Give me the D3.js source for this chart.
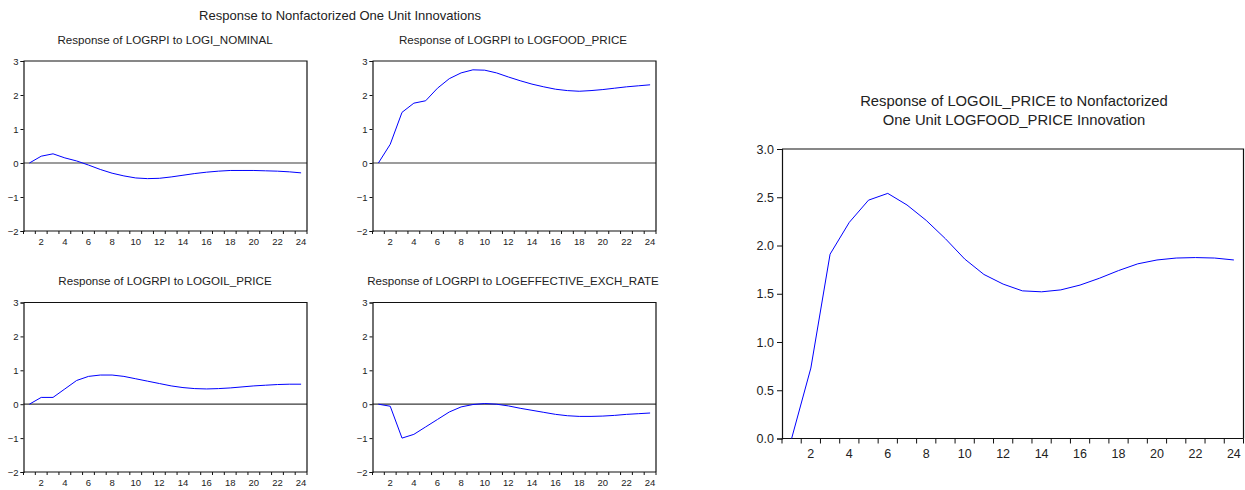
<!DOCTYPE html>
<html>
<head>
<meta charset="utf-8">
<script src="https://cdn.jsdelivr.net/npm/d3@7"></script>
<style>
  html, body { margin: 0; padding: 0; background: #fff; }
  svg { display: block; font-family: "Liberation Sans", Arial, sans-serif; }
</style>
</head>
<body>
<svg id="chart" width="1245" height="490"></svg>
<script>
// ---------- data ----------
const periods = d3.range(1, 25);
const xTickLabels = [2, 4, 6, 8, 10, 12, 14, 16, 18, 20, 22, 24];
const smallYTicks = [-2, -1, 0, 1, 2, 3];
const bigYTicks = [0.0, 0.5, 1.0, 1.5, 2.0, 2.5, 3.0];

const mainTitle = "Response to Nonfactorized One Unit Innovations";
const panelTitles = [
  "Response of LOGRPI to LOGI_NOMINAL",
  "Response of LOGRPI to LOGFOOD_PRICE",
  "Response of LOGRPI to LOGOIL_PRICE",
  "Response of LOGRPI to LOGEFFECTIVE_EXCH_RATE"
];
const bigTitle = ["Response of LOGOIL_PRICE to Nonfactorized", "One Unit LOGFOOD_PRICE Innovation"];

const respINominal = [0, 0.20, 0.27, 0.15, 0.06, -0.06, -0.19, -0.30, -0.38, -0.44, -0.46, -0.45,
  -0.41, -0.36, -0.31, -0.27, -0.24, -0.22, -0.22, -0.22, -0.23, -0.24, -0.26, -0.29];
const respFoodPrice = [0, 0.55, 1.49, 1.76, 1.83, 2.20, 2.48, 2.65, 2.74, 2.73, 2.65, 2.53,
  2.42, 2.32, 2.24, 2.17, 2.13, 2.11, 2.13, 2.16, 2.20, 2.24, 2.27, 2.30];
const respOilPrice = [0, 0.20, 0.20, 0.45, 0.70, 0.82, 0.86, 0.86, 0.82, 0.75, 0.68, 0.61,
  0.54, 0.49, 0.46, 0.45, 0.46, 0.48, 0.51, 0.54, 0.56, 0.58, 0.59, 0.59];
const respExchRate = [0, -0.06, -1.00, -0.89, -0.67, -0.45, -0.23, -0.08, -0.01, 0.02, 0.00, -0.05,
  -0.12, -0.18, -0.24, -0.30, -0.34, -0.36, -0.36, -0.35, -0.33, -0.30, -0.28, -0.26];
const respOilToFood = [0, 0.73, 1.91, 2.24, 2.47, 2.54, 2.42, 2.26, 2.07, 1.86, 1.70, 1.60,
  1.53, 1.52, 1.54, 1.59, 1.66, 1.74, 1.81, 1.85, 1.87, 1.875, 1.87, 1.85];

// ---------- drawing ----------
const svg = d3.select("#chart");
const TXT = "#222";

svg.append("text").attr("x", 340).attr("y", 20).attr("text-anchor", "middle")
  .attr("font-size", 13).attr("fill", TXT).text(mainTitle);

function drawPanel(o) {
  const x = d3.scaleLinear().domain([0.5, 24.5]).range([o.left, o.right]);
  const y = d3.scaleLinear().domain(o.yDomain).range([o.bottom, o.top]);
  const g = svg.append("g");

  // title
  o.title.forEach((t, i) => {
    g.append("text").attr("x", o.titleX).attr("y", o.titleY + i * o.titleLH)
      .attr("text-anchor", "middle").attr("font-size", o.titleSize).attr("fill", TXT).text(t);
  });

  // zero line
  if (o.zeroLine) {
    g.append("line").attr("x1", o.left).attr("x2", o.right)
      .attr("y1", y(0)).attr("y2", y(0)).attr("stroke", "#3a3a3a").attr("stroke-width", 1.2);
  }

  // frame: top and right
  g.append("path")
    .attr("d", `M${o.left},${o.top}H${o.right}V${o.bottom}`)
    .attr("fill", "none").attr("stroke", "#111").attr("stroke-width", 1.2);

  // y axis
  const yAxis = d3.axisLeft(y).tickValues(o.yTicks).tickSize(o.tick).tickPadding(o.pad)
    .tickFormat(o.yFmt);
  const ya = g.append("g").attr("transform", `translate(${o.left},0)`).call(yAxis);
  ya.select(".domain").attr("stroke", "#111").attr("stroke-width", 1.2);
  ya.selectAll(".tick line").attr("stroke", "#111");
  ya.selectAll("text").attr("font-size", o.tickSize).attr("fill", TXT)
    .attr("font-family", "Liberation Sans, Arial, sans-serif");

  // x axis: tick marks at half periods, labels at even periods
  const xa = g.append("g").attr("transform", `translate(0,${o.bottom})`);
  xa.append("line").attr("x1", o.left).attr("x2", o.right).attr("y1", 0).attr("y2", 0)
    .attr("stroke", "#111").attr("stroke-width", 1.2);
  const tickPos = d3.range(0.5, 25, 1);
  xa.selectAll("line.tk").data(tickPos).join("line").attr("class", "tk")
    .attr("x1", d => x(d)).attr("x2", d => x(d)).attr("y1", 0).attr("y2", o.tick)
    .attr("stroke", "#111");
  xa.selectAll("text").data(xTickLabels).join("text")
    .attr("x", d => x(d)).attr("y", o.xLabelDy).attr("text-anchor", "middle")
    .attr("font-size", o.tickSize).attr("fill", TXT).text(d => d);

  // line
  const line = d3.line().x((d, i) => x(periods[i])).y(d => y(d));
  g.append("path").datum(o.values).attr("d", line)
    .attr("fill", "none").attr("stroke", "#0000ff").attr("stroke-width", 1);
}

const small = {
  yDomain: [-2, 3], yTicks: smallYTicks, yFmt: d3.format("d"),
  tick: 3, pad: 2, tickSize: 9.5, titleSize: 11.6, titleLH: 0, zeroLine: true, xLabelDy: 14
};

drawPanel(Object.assign({}, small, {
  left: 23.5, right: 307, top: 61, bottom: 231,
  title: [panelTitles[0]], titleX: 165, titleY: 44, values: respINominal
}));
drawPanel(Object.assign({}, small, {
  left: 372.5, right: 656, top: 61, bottom: 231,
  title: [panelTitles[1]], titleX: 513, titleY: 44, values: respFoodPrice
}));
drawPanel(Object.assign({}, small, {
  left: 23.5, right: 307, top: 302.5, bottom: 472,
  title: [panelTitles[2]], titleX: 165, titleY: 285, values: respOilPrice
}));
drawPanel(Object.assign({}, small, {
  left: 372.5, right: 656, top: 302.5, bottom: 472,
  title: [panelTitles[3]], titleX: 513, titleY: 285, values: respExchRate
}));

drawPanel({
  left: 782, right: 1243.5, top: 149, bottom: 438.5,
  yDomain: [0, 3], yTicks: bigYTicks, yFmt: d3.format(".1f"),
  tick: 5, pad: 3, tickSize: 12.5, titleSize: 14.8, titleLH: 18.5, zeroLine: false, xLabelDy: 19,
  title: bigTitle, titleX: 1014, titleY: 106, values: respOilToFood
});
</script>
</body>
</html>
